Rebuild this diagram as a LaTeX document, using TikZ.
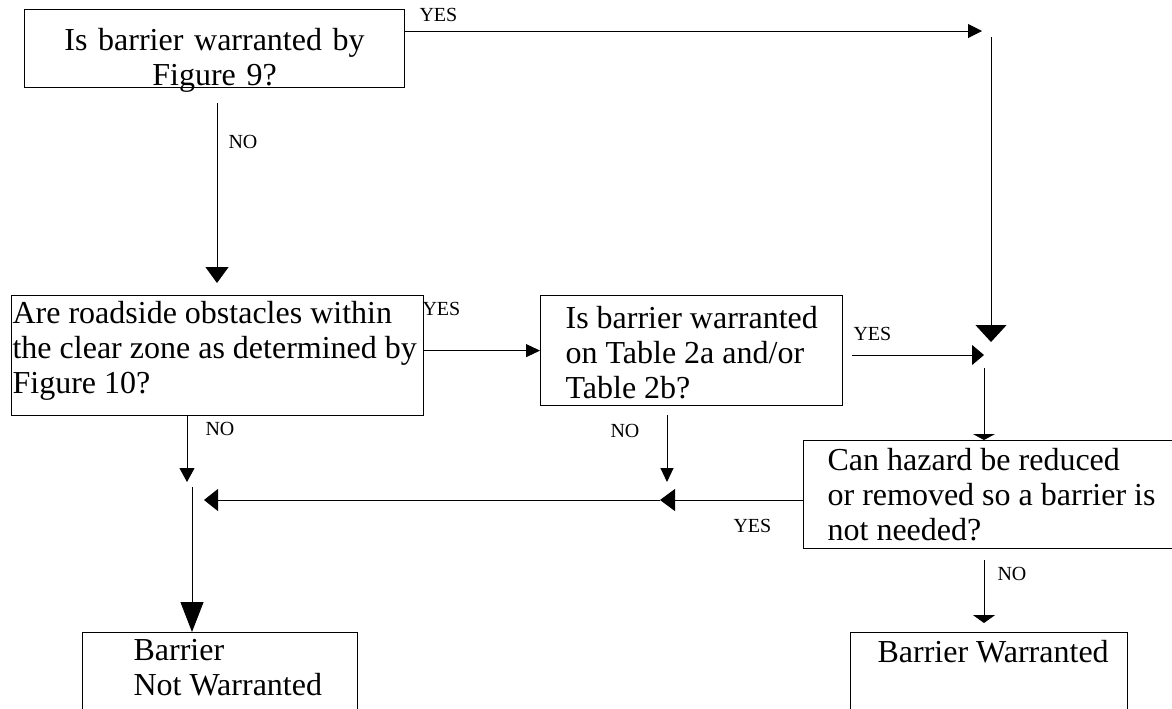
\documentclass[tikz,border=0pt]{standalone}
\usepackage{fontspec}
\setmainfont{Liberation Serif}
\usepackage{tikz}
\usetikzlibrary{arrows.meta}

\begin{document}
\begin{tikzpicture}[x=.5pt, y=-.5pt, line width=.5pt,
  every node/.style={inner sep=0pt},
  qbox/.style={draw, line width=.6pt, anchor=north west, align=flush left, font=\fontsize{16}{17.5}\selectfont},
  pad/.style={execute at begin node={\leftskip=#1\relax}},
  lbl/.style={anchor=base west, font=\fontsize{10}{12}\selectfont},
  arr/.style 2 args={-{Triangle[length=#1,width=#2]}}]
  \path[use as bounding box, clip] (0,0) rectangle (1172,708);
  \node [qbox, align=center, text width=190pt, text height=20.5pt, text depth=18.5pt] (1) at (24,9) {Is barrier warranted by\\Figure 9?};
  \node [qbox, pad=.5pt, text width=206pt, text height=14pt, text depth=46pt] (2) at (11,295) {Are roadside obstacles within\\the clear zone as determined by\\Figure 10?};
  \node [qbox, pad=12.5pt, text width=151pt, text height=16.5pt, text depth=38.5pt] (3) at (540,295) {Is barrier warranted\\on Table 2a and/or\\Table 2b?};
  \node [qbox, pad=12pt, text width=200pt, text height=15pt, text depth=39pt] (4) at (803,440) {Can hazard be reduced\\or removed so a barrier is\\not needed?};
  \node [qbox, pad=13.5pt, text width=138.5pt, text height=15pt, text depth=50pt] (5) at (850,632) {Barrier Warranted};
  \node [qbox, pad=25.5pt, text width=137.5pt, text height=14pt, text depth=50pt] (6) at (82,632) {Barrier\\Not Warranted};
  \node [lbl] (y1) at (419,21) {YES};
  \node [lbl] (n1) at (228,148) {NO};
  \node [lbl] (y2) at (422,315) {YES};
  \node [lbl] (y3) at (853,340) {YES};
  \node [lbl] (n2) at (205,435) {NO};
  \node [lbl] (n3) at (610,437) {NO};
  \node [lbl] (y4) at (733,532) {YES};
  \node [lbl] (n4) at (997,580) {NO};
  \coordinate (a) at (982,31);
  \coordinate (b) at (991,37);
  \coordinate (c) at (991,342);
  \coordinate (d) at (217,103);
  \coordinate (e) at (217,283);
  \coordinate (f) at (852,355);
  \coordinate (g) at (984,355);
  \coordinate (h) at (984,368);
  \coordinate (i) at (660,500);
  \coordinate (j) at (204,500);
  \coordinate (k) at (187,482);
  \coordinate (l) at (667,415);
  \coordinate (m) at (667,482);
  \coordinate (n) at (192,487);
  \coordinate (o) at (984,560);
  \coordinate (p) at (984,623);
  \draw [arr={7pt}{7pt}] (1.east |- a) -- (a);
  \draw [arr={8.5pt}{15.5pt}] (b) -- (c);
  \draw [arr={8pt}{11.5pt}] (d) -- (e);
  \draw [arr={7pt}{6.5pt}] (2.east |- 3.west) -- (3.west);
  \draw [arr={6pt}{10pt}] (f) -- (g);
  \draw [arr={3pt}{11pt}] (h) -- (h |- 4.north);
  \draw [arr={7.5pt}{11pt}] (4.west |- i) -- (i);
  \draw [arr={7pt}{11pt}] (i) -- (j);
  \draw [arr={7pt}{7.5pt}] (2.south -| k) -- (k);
  \draw [arr={7pt}{6.5pt}] (l) -- (m);
  \draw [arr={15pt}{11.5pt}] (n) -- (n |- 6.north);
  \draw [arr={4pt}{11pt}] (o) -- (p);
\end{tikzpicture}
\end{document}
